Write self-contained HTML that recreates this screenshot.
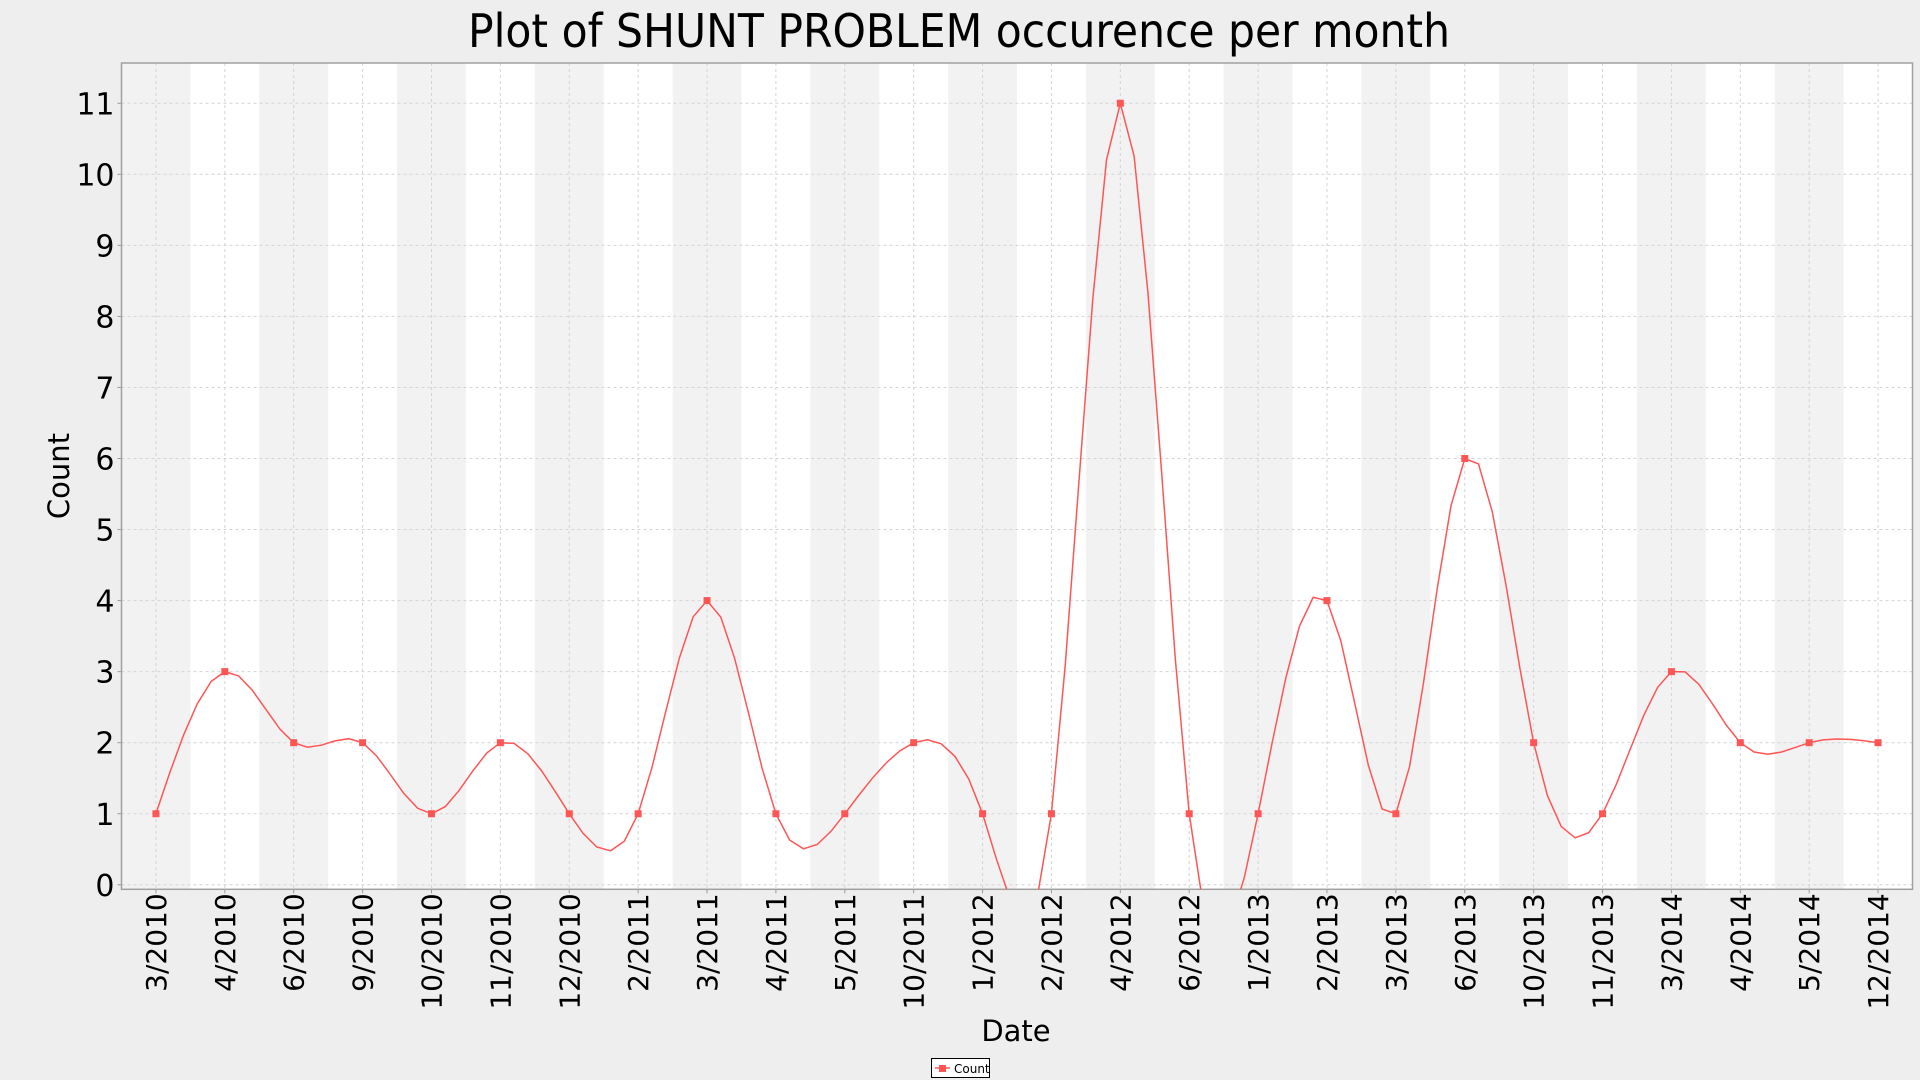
<!DOCTYPE html>
<html><head><meta charset="utf-8">
<style>
html,body{margin:0;padding:0;background:#eeeeee;}
svg{display:block;font-family:"DejaVu Sans","Liberation Sans",sans-serif;}
</style></head>
<body>
<svg id="chart" width="1920" height="1080" viewBox="0 0 1920 1080" xmlns="http://www.w3.org/2000/svg">
<rect width="1920" height="1080" fill="#eeeeee"/>
<text x="959" y="47" font-size="46" text-anchor="middle" fill="#000" textLength="982" lengthAdjust="spacingAndGlyphs">Plot of SHUNT PROBLEM occurence per month</text>
<g id="plot"></g>
<text transform="translate(69,476) rotate(-90)" font-size="29" text-anchor="middle" fill="#000">Count</text>
<text x="1016" y="1041" font-size="29" text-anchor="middle" fill="#000">Date</text>
<g>
<rect x="931.5" y="1058.5" width="58" height="19" fill="#fff" stroke="#000" stroke-width="1"/>
<line x1="935" y1="1068" x2="950" y2="1068" stroke="#f55" stroke-width="1.5"/>
<rect x="939" y="1065" width="7" height="7" fill="#f55"/>
<text x="954" y="1073" font-size="12" fill="#000">Count</text>
</g>
</svg>
<script>
const categories=["3/2010","4/2010","6/2010","9/2010","10/2010","11/2010","12/2010","2/2011","3/2011","4/2011","5/2011","10/2011","1/2012","2/2012","4/2012","6/2012","1/2013","2/2013","3/2013","6/2013","10/2013","11/2013","3/2014","4/2014","5/2014","12/2014"];
const counts=[1,3,2,2,1,2,1,1,4,1,1,2,1,1,11,1,1,4,1,6,2,1,3,2,2,2];
const yTicks=[0,1,2,3,4,5,6,7,8,9,10,11];

const NS="http://www.w3.org/2000/svg";
const L=121.5,R=1912.5,T=63,B=889.3;
const bw=(R-L)/categories.length;
const x=i=>L+bw*(i+0.5);
const y=v=>884.8-v*71.05;
const g=document.getElementById('plot');
function mk(tag,attrs,parent){const e=document.createElementNS(NS,tag);for(const k in attrs)e.setAttribute(k,attrs[k]);(parent||g).appendChild(e);return e;}

const clip=mk('clipPath',{id:'clipP'});
mk('rect',{x:L,y:T,width:R-L,height:B-T},clip);
mk('rect',{x:L,y:T,width:R-L,height:B-T,fill:'#fff'});
categories.forEach((c,i)=>{
  if(i%2===0){
    const b=mk('rect',{x:L+bw*i,y:T,width:bw,height:B-T,fill:'#f2f2f2'});
    
    
  }
});
yTicks.forEach(v=>{
  const gl=mk('line',{x1:L,x2:R,y1:y(v),y2:y(v),stroke:'#d4d4d4','stroke-dasharray':'3,3'});
  
  
  mk('line',{x1:L-4,x2:L,y1:y(v),y2:y(v),stroke:'#999'});
  const t=mk('text',{x:L-7,y:y(v)+11,'font-size':30,'text-anchor':'end',fill:'#000'});
  t.textContent=v;
  
  
});
categories.forEach((c,i)=>{
  const gl=mk('line',{x1:x(i),x2:x(i),y1:T,y2:B,stroke:'#d4d4d4','stroke-dasharray':'3,3'});
  
  
  mk('line',{x1:x(i),x2:x(i),y1:B,y2:B+4,stroke:'#999'});
  const t=mk('text',{transform:`translate(${x(i)+10},${B+4}) rotate(-90)`,'font-size':28,'text-anchor':'end',fill:'#000'});
  t.textContent=c;
  
  
});
mk('rect',{x:L,y:T,width:R-L,height:B-T,fill:'none',stroke:'#a0a0a0','stroke-width':1.5});

// natural cubic spline
const n=counts.length;
const xs=counts.map((v,i)=>x(i)), ys=counts.map(v=>y(v));
const h=[],al=[],l=[1],mu=[0],z=[0],c=new Array(n).fill(0),bb=[],d=[];
for(let i=0;i<n-1;i++)h.push(xs[i+1]-xs[i]);
for(let i=1;i<n-1;i++)al[i]=3/h[i]*(ys[i+1]-ys[i])-3/h[i-1]*(ys[i]-ys[i-1]);
for(let i=1;i<n-1;i++){l[i]=2*(xs[i+1]-xs[i-1])-h[i-1]*mu[i-1];mu[i]=h[i]/l[i];z[i]=(al[i]-h[i-1]*z[i-1])/l[i];}
l[n-1]=1;z[n-1]=0;c[n-1]=0;
for(let j=n-2;j>=0;j--){c[j]=z[j]-mu[j]*c[j+1];bb[j]=(ys[j+1]-ys[j])/h[j]-h[j]*(c[j+1]+2*c[j])/3;d[j]=(c[j+1]-c[j])/(3*h[j]);}
let pts=[];
for(let i=0;i<n-1;i++){
  for(let k=0;k<5;k++){const t=h[i]*k/5;pts.push([xs[i]+t,ys[i]+bb[i]*t+c[i]*t*t+d[i]*t*t*t]);}
}
pts.push([xs[n-1],ys[n-1]]);
const line=mk('polyline',{points:pts.map(p=>p[0].toFixed(1)+','+p[1].toFixed(1)).join(' '),fill:'none',stroke:'#f55','stroke-width':1.5,'clip-path':'url(#clipP)'});


counts.forEach((v,i)=>{
  const m=mk('rect',{x:x(i)-3.5,y:y(v)-3.5,width:7,height:7,fill:'#f55'});
  
  
});
</script>
</body></html>
